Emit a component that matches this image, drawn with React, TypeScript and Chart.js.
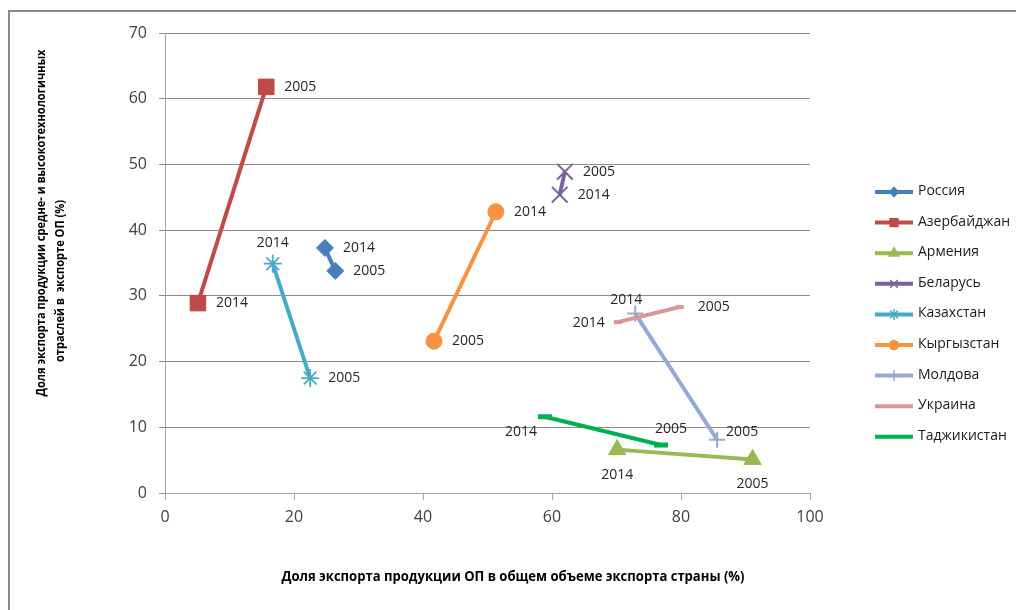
import React, { useEffect, useRef } from 'react';
import { Chart, registerables } from 'chart.js';
import { drawPoint } from 'chart.js/helpers';

Chart.register(...registerables);

// ---- data ----
const countries = ['Россия', 'Азербайджан', 'Армения', 'Беларусь', 'Казахстан', 'Кыргызстан', 'Молдова', 'Украина', 'Таджикистан'];
const years = ['2005', '2014'];
const x2005 = [26.4, 15.7, 91.1, 62.0, 22.5, 41.7, 85.6, 79.8, 76.9];
const y2005 = [33.8, 61.8, 5.1, 48.9, 17.5, 23.1, 8.1, 28.3, 7.3];
const x2014 = [24.8, 5.1, 70.1, 61.2, 16.7, 51.3, 72.9, 70.2, 58.9];
const y2014 = [37.3, 28.9, 6.6, 45.4, 34.9, 42.8, 27.3, 26.0, 11.6];
const xTickValues = [0, 20, 40, 60, 80, 100];
const yTickValues = [0, 10, 20, 30, 40, 50, 60, 70];
const xTitle = 'Доля экспорта продукции ОП в общем объеме экспорта страны (%)';
const yTitleLines = ['Доля экспорта продукции средне- и высокотехнологичных', 'отраслей в  экспорте ОП (%)'];

// ---- styles ----
const colors = ['#4A7EBB', '#BE4B48', '#98B954', '#7D60A0', '#46AAC5', '#F69240', '#93A9D6', '#D99694', '#00B050'];
const markers = ['rectRot', 'rect', 'triangle', 'crossRot', 'star', 'circle', 'cross', 'line', 'line'];
const markerRadius = [8.5, 11, 10, 11, 9, 8, 8, 4, 7];
const markerBorder = [1, 1, 1, 2, 1.75, 1, 2, 4, 5];
const legendRadius = [4.5, 5.5, 5.5, 5.5, 5.5, 4.5, 5.5, 0, 0];
const labelPos2005 = ['r', 'r', 'b', 'r', 'r', 'r', 'ar', 'r', 'ac'];
const labelPos2014 = ['r', 'r', 'b', 'r', 'a', 'r', 'al', 'l', 'bl'];
const placements: Record<string, { align: CanvasTextAlign; dx: number; dy: number }> = {
  r: { align: 'left', dx: 18, dy: 0 },
  l: { align: 'right', dx: -13, dy: 1 },
  a: { align: 'center', dx: 0, dy: -21 },
  b: { align: 'center', dx: 0, dy: 25 },
  ar: { align: 'left', dx: 9, dy: -8 },
  al: { align: 'center', dx: -9, dy: -14 },
  ac: { align: 'center', dx: 10, dy: -16 },
  bl: { align: 'right', dx: -8, dy: 15 },
};

const FONT = '"Open Sans", "Noto Sans", sans-serif';

const labelPlugin = {
  id: 'yearLabels',
  afterDatasetsDraw(chart: any) {
    const ctx = chart.ctx;
    ctx.save();
    ctx.font = `14px ${FONT}`;
    ctx.fillStyle = '#262626';
    ctx.textBaseline = 'middle';
    chart.data.datasets.forEach((_ds: any, i: number) => {
      const meta = chart.getDatasetMeta(i);
      meta.data.forEach((pt: any, j: number) => {
        const p = placements[j === 0 ? labelPos2005[i] : labelPos2014[i]];
        ctx.textAlign = p.align;
        ctx.fillText(years[j], pt.x + p.dx, pt.y + p.dy);
      });
    });
    ctx.restore();
  },
};

// draws text centred at (0,0) of the current transform, squeezed to a target width
function drawSqueezed(ctx: CanvasRenderingContext2D, text: string, size: number, target: number) {
  ctx.font = `bold ${size}px ${FONT}`;
  const w = ctx.measureText(text).width;
  const sx = target / w;
  ctx.save();
  ctx.scale(sx, 1);
  ctx.fillText(text, 0, 0);
  ctx.restore();
}

const framePlugin = {
  id: 'frame',
  afterDraw(chart: any) {
    const ctx: CanvasRenderingContext2D = chart.ctx;
    ctx.save();
    // outer frame (left/top)
    ctx.strokeStyle = '#8a8a8a';
    ctx.lineWidth = 2;
    ctx.beginPath();
    ctx.moveTo(9, 610);
    ctx.lineTo(9, 11);
    ctx.lineTo(1016, 11);
    ctx.stroke();

    // x title
    ctx.fillStyle = '#000';
    ctx.textBaseline = 'middle';
    ctx.textAlign = 'center';
    ctx.save();
    ctx.translate(513, 577);
    drawSqueezed(ctx, xTitle, 14, 463);
    ctx.restore();

    // y title (rotated)
    ctx.font = `bold 13px ${FONT}`;
    const sx = 347 / ctx.measureText(yTitleLines[0]).width;
    const centers = [
      [41, 223],
      [60, 281],
    ];
    yTitleLines.forEach((t, k) => {
      ctx.save();
      ctx.translate(centers[k][0], centers[k][1]);
      ctx.rotate(-Math.PI / 2);
      ctx.font = `bold 13px ${FONT}`;
      const w = ctx.measureText(t).width;
      drawSqueezed(ctx, t, 13, w * sx);
      ctx.restore();
    });

    // legend
    chart.data.datasets.forEach((ds: any, i: number) => {
      const y = 192 + 30.6 * i;
      ctx.strokeStyle = ds.borderColor;
      ctx.lineWidth = 4;
      ctx.lineCap = 'butt';
      ctx.beginPath();
      ctx.moveTo(875, y);
      ctx.lineTo(913, y);
      ctx.stroke();
      if (legendRadius[i] > 0) {
        ctx.fillStyle = ds.borderColor;
        ctx.strokeStyle = ds.borderColor;
        ctx.lineWidth = 1.5;
        drawPoint(ctx, { pointStyle: markers[i], radius: legendRadius[i], rotation: 0, borderWidth: 1.5 } as any, 894, y);
      }
      ctx.fillStyle = '#1a1a1a';
      ctx.font = `14px ${FONT}`;
      ctx.textAlign = 'left';
      ctx.textBaseline = 'middle';
      ctx.fillText(ds.label, 918, y - 1);
    });
    ctx.restore();
  },
};

export default function App() {
  const ref = useRef<HTMLCanvasElement>(null);
  useEffect(() => {
    if (!ref.current) return;
    const datasets = countries.map((c, i) => ({
      label: c,
      data: [
        { x: x2005[i], y: y2005[i] },
        { x: x2014[i], y: y2014[i] },
      ],
      showLine: true,
      borderColor: colors[i],
      backgroundColor: colors[i],
      borderWidth: 4,
      tension: 0,
      pointStyle: markers[i],
      pointRadius: markerRadius[i],
      pointBorderWidth: markerBorder[i],
      pointBackgroundColor: colors[i],
      pointBorderColor: colors[i],
      order: -i,
    }));
    const chart = new Chart(ref.current, {
      type: 'scatter',
      data: { datasets },
      options: {
        animation: false,
        responsive: false,
        devicePixelRatio: 1,
        layout: { padding: { left: 0, top: 33, right: 206, bottom: 0 } },
        plugins: { legend: { display: false }, tooltip: { enabled: false } },
        scales: {
          x: {
            type: 'linear',
            min: 0,
            max: 100,
            afterBuildTicks: (s: any) => {
              s.ticks = xTickValues.map((v) => ({ value: v }));
            },
            afterFit: (s: any) => {
              s.height = 117;
            },
            ticks: { color: '#404040', font: { family: FONT, size: 16 }, padding: 8, maxRotation: 0 },
            grid: { drawOnChartArea: false, color: '#a6a6a6', tickLength: 7 },
            border: { color: '#a6a6a6' },
          },
          y: {
            type: 'linear',
            min: 0,
            max: 70,
            afterBuildTicks: (s: any) => {
              s.ticks = yTickValues.map((v) => ({ value: v }));
            },
            afterFit: (s: any) => {
              s.width = 165;
            },
            ticks: { color: '#404040', font: { family: FONT, size: 16 }, padding: 12 },
            grid: { color: '#8c8c8c', tickLength: 6 },
            border: { color: '#a6a6a6' },
          },
        },
      },
      plugins: [labelPlugin, framePlugin],
    } as any);
    return () => chart.destroy();
  }, []);
  return (
    <div style={{ position: 'absolute', left: 0, top: 0, width: 1016, height: 610, background: '#fff' }}>
      <canvas ref={ref} width={1016} height={610} />
    </div>
  );
}
